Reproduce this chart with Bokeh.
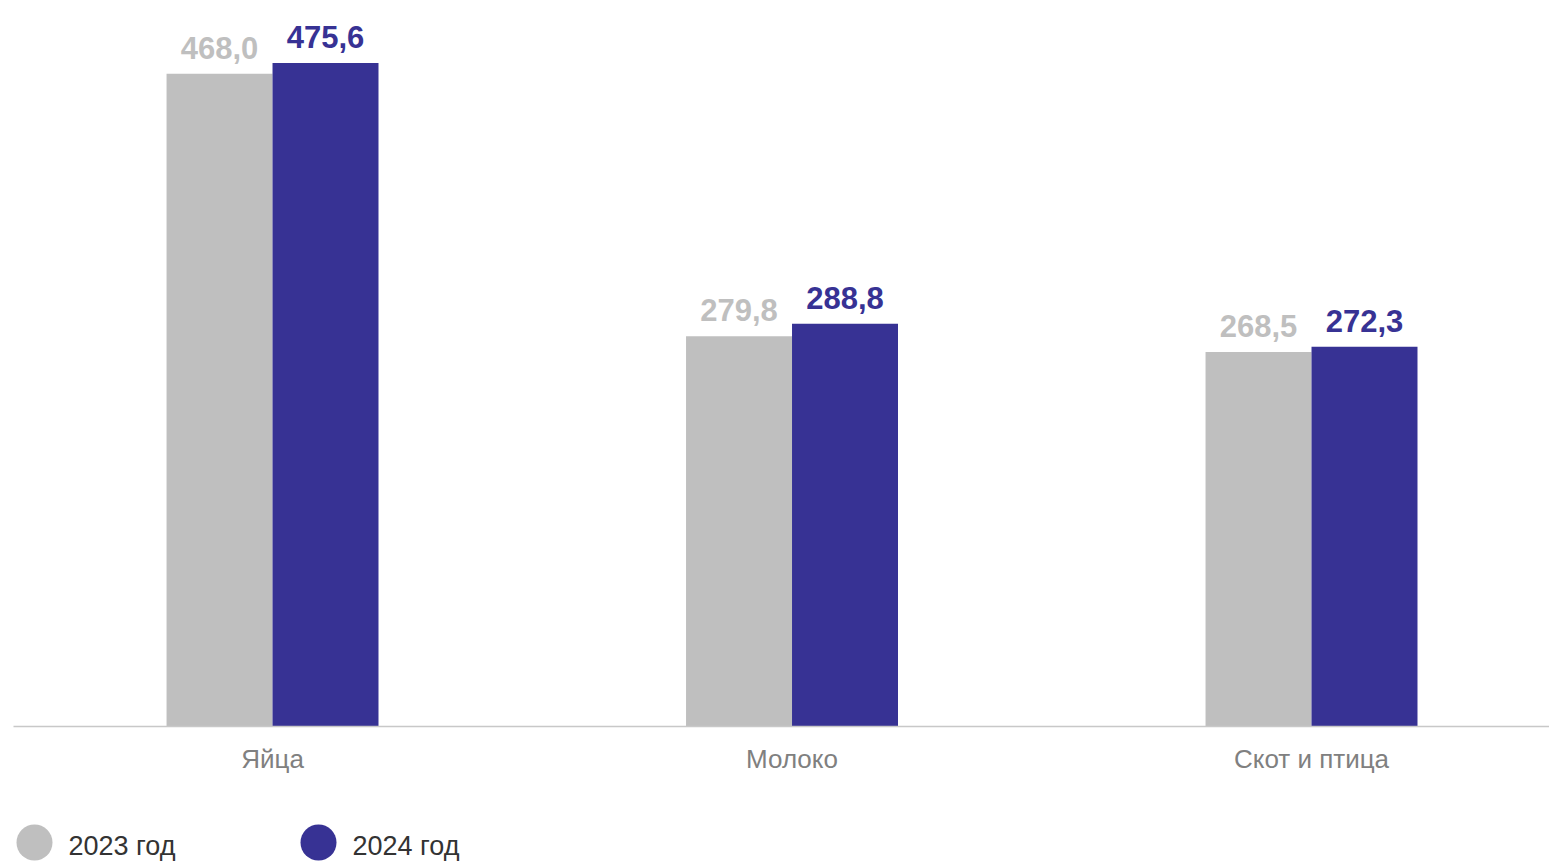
from bokeh.plotting import figure
from bokeh.models import ColumnDataSource, FixedTicker, Range1d
from bokeh.layouts import column
from bokeh.core.properties import value
from bokeh.embed import file_html
from bokeh.resources import INLINE

categories = ["Яйца", "Молоко", "Скот и птица"]
series_names = ["2023 год", "2024 год"]
values_2023 = [468.0, 279.8, 268.5]
values_2024 = [475.6, 288.8, 272.3]
colors = ["#BFBFBF", "#373294"]

FONT = "Liberation Sans"
W = 1549
LEFT = 13
BAR_W = 0.204

idx = list(range(len(categories)))

p = figure(width=W, height=792, output_backend="svg", toolbar_location=None,
           x_range=Range1d(-0.4986, 2.4581), y_range=Range1d(0, 514.7),
           min_border_left=LEFT, min_border_right=0, min_border_top=8,
           min_border_bottom=66, y_axis_location=None)
p.outline_line_color = None
p.grid.grid_line_color = None

for k, (vals, col) in enumerate(zip([values_2023, values_2024], colors)):
    off = (k - 0.5) * BAR_W
    src = ColumnDataSource(dict(x=[i + off for i in idx], top=vals,
                                lab=[f"{v:.1f}".replace(".", ",") for v in vals]))
    p.vbar(x="x", top="top", width=BAR_W, bottom=0, source=src,
           fill_color=col, line_color=None)
    p.text(x="x", y="top", text="lab", source=src, text_align="center",
           text_baseline="alphabetic", y_offset=-26, text_color=col,
           text_font=value(FONT), text_font_size="31px", text_font_style="bold")

ax = p.xaxis[0]
ax.ticker = FixedTicker(ticks=idx)
ax.major_label_overrides = {i: c for i, c in zip(idx, categories)}
ax.axis_line_color = "#C8C8C8"
ax.axis_line_width = 1.5
ax.major_tick_line_color = None
ax.minor_tick_line_color = None
ax.major_label_text_font = FONT
ax.major_label_text_font_size = "26px"
ax.major_label_text_color = "#808080"
ax.major_label_standoff = 11

# legend strip (its frame is aligned with the chart frame in the column)
LH = 69
lg = figure(width=W, height=LH, output_backend="svg", toolbar_location=None,
            x_range=Range1d(LEFT, W), y_range=Range1d(LH, 0),
            min_border=0, min_border_left=LEFT,
            x_axis_location=None, y_axis_location=None)
lg.outline_line_color = None
lg.grid.grid_line_color = None
lx = [34 + i * 284 for i in range(len(series_names))]
lsrc = ColumnDataSource(dict(x=lx, tx=[x + 34 for x in lx], y=[50] * 2,
                             name=series_names, c=colors))
lg.scatter(x="x", y="y", size=36, fill_color="c", line_color=None, source=lsrc)
lg.text(x="tx", y="y", text="name", source=lsrc, text_baseline="middle",
        y_offset=3, text_color="#333333", text_font=value(FONT),
        text_font_size="27px")

layout = column(p, lg, spacing=0)
open("out.html", "w").write(file_html(layout, INLINE))
